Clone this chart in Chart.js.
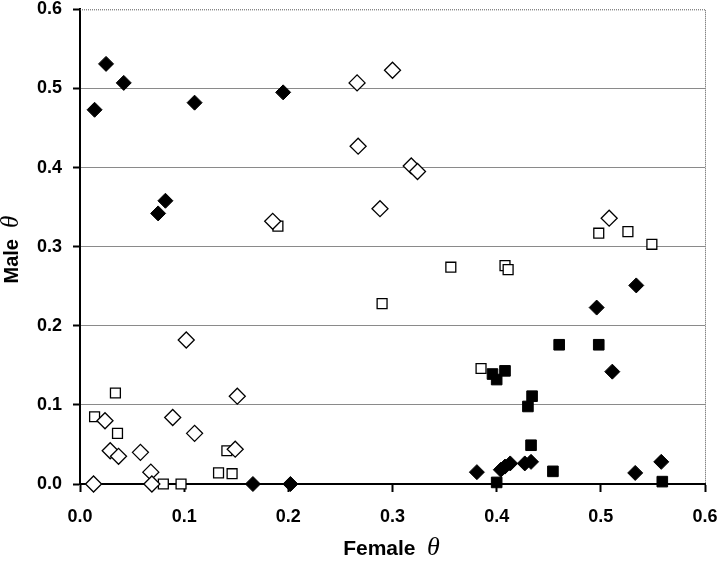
<!DOCTYPE html>
<html>
<head>
<meta charset="utf-8">
<script src="https://cdn.jsdelivr.net/npm/chart.js@4.4.1/dist/chart.umd.min.js"></script>
<style>
  html, body { margin: 0; padding: 0; background: #fff; }
  #wrap { width: 720px; height: 562px; }
</style>
</head>
<body>
<div id="wrap"><canvas id="chart"></canvas></div>
<script>
// values (female θ, male θ)
const solidDiamondX = [0.014, 0.025, 0.042, 0.110, 0.195, 0.075, 0.082, 0.166, 0.202, 0.534, 0.496, 0.511, 0.381, 0.404, 0.408, 0.413, 0.427, 0.433, 0.533, 0.558];
const solidDiamondY = [0.473, 0.531, 0.507, 0.482, 0.495, 0.342, 0.358, 0.000, 0.000, 0.251, 0.223, 0.142, 0.015, 0.018, 0.022, 0.026, 0.026, 0.028, 0.014, 0.028];

const openDiamondX = [0.185, 0.266, 0.267, 0.300, 0.318, 0.324, 0.288, 0.508, 0.102, 0.151, 0.089, 0.024, 0.110, 0.058, 0.029, 0.037, 0.149, 0.068, 0.069, 0.013];
const openDiamondY = [0.332, 0.507, 0.427, 0.523, 0.402, 0.395, 0.348, 0.336, 0.182, 0.111, 0.084, 0.080, 0.064, 0.040, 0.042, 0.035, 0.044, 0.015, 0.000, 0.000];

const openSquareX = [0.190, 0.498, 0.526, 0.549, 0.356, 0.408, 0.411, 0.290, 0.385, 0.034, 0.014, 0.036, 0.080, 0.097, 0.133, 0.146, 0.141];
const openSquareY = [0.326, 0.317, 0.319, 0.303, 0.274, 0.276, 0.271, 0.228, 0.146, 0.115, 0.085, 0.064, 0.000, 0.000, 0.014, 0.013, 0.042];

const solidSquareX = [0.460, 0.498, 0.396, 0.400, 0.408, 0.434, 0.430, 0.433, 0.454, 0.400, 0.559];
const solidSquareY = [0.176, 0.176, 0.139, 0.132, 0.143, 0.111, 0.098, 0.049, 0.016, 0.002, 0.003];

const tickValues = [0, 0.1, 0.2, 0.3, 0.4, 0.5, 0.6];
const xTitle = ['Female', 'θ'];
const yTitle = ['Male', 'θ'];

const toPoints = (xs, ys) => xs.map((x, i) => ({ x: x, y: ys[i] }));

const sans = '"Liberation Sans", Arial, sans-serif';
const serif = '"Liberation Serif", "Times New Roman", serif';

// dotted frame on top and right side, plus the axis titles (bold word + italic theta)
const extrasPlugin = {
  id: 'extras',
  afterDraw(chart) {
    const a = chart.chartArea;
    const ctx = chart.ctx;
    ctx.save();
    ctx.strokeStyle = '#555';
    ctx.lineWidth = 1;
    ctx.setLineDash([1, 1]);
    ctx.beginPath();
    ctx.moveTo(a.left, a.top + 0.5);
    ctx.lineTo(a.right + 0.5, a.top + 0.5);
    ctx.lineTo(a.right + 0.5, a.bottom);
    ctx.stroke();
    ctx.setLineDash([]);

    const drawTitle = (parts, size, cx, cy, rotate) => {
      ctx.save();
      ctx.translate(cx, cy);
      if (rotate) ctx.rotate(-Math.PI / 2);
      ctx.fillStyle = '#000';
      ctx.textBaseline = 'middle';
      ctx.textAlign = 'left';
      const f1 = 'bold ' + size + 'px ' + sans;
      const f2 = 'italic ' + (size + 5) + 'px ' + serif;
      ctx.font = f1;
      const w1 = ctx.measureText(parts[0]).width;
      ctx.font = f2;
      const w2 = ctx.measureText(parts[1]).width;
      const gap = size * 0.55;
      const x0 = -(w1 + gap + w2) / 2;
      ctx.font = f1;
      ctx.fillText(parts[0], x0, 0);
      ctx.font = f2;
      ctx.fillText(parts[1], x0 + w1 + gap, -1);
      ctx.restore();
    };
    drawTitle(xTitle, 21, (a.left + a.right) / 2 - 1, 549, false);
    drawTitle(yTitle, 20, 12, (a.top + a.bottom) / 2 + 3, true);
    ctx.restore();
  }
};

const tickFont = { family: sans, weight: 'bold', size: 18 };

new Chart(document.getElementById('chart'), {
  type: 'scatter',
  data: {
    datasets: [
      {
        data: toPoints(openDiamondX, openDiamondY),
        pointStyle: 'rectRot', pointRadius: 8, borderWidth: 1.3,
        borderColor: '#000', backgroundColor: '#fff', clip: false
      },
      {
        data: toPoints(openSquareX, openSquareY),
        pointStyle: 'rect', pointRadius: 7, borderWidth: 1.3,
        borderColor: '#000', backgroundColor: '#fff', clip: false
      },
      {
        data: toPoints(solidDiamondX, solidDiamondY),
        pointStyle: 'rectRot', pointRadius: 7.5, borderWidth: 1,
        borderColor: '#000', backgroundColor: '#000', clip: false
      },
      {
        data: toPoints(solidSquareX, solidSquareY),
        pointStyle: 'rect', pointRadius: 7.5, borderWidth: 1,
        borderColor: '#000', backgroundColor: '#000', clip: false
      }
    ]
  },
  options: {
    responsive: true,
    maintainAspectRatio: false,
    animation: false,
    layout: { padding: { top: 9, right: 15, left: 0, bottom: 0 } },
    plugins: { legend: { display: false }, tooltip: { enabled: false } },
    scales: {
      x: {
        type: 'linear', min: 0, max: 0.6,
        afterBuildTicks: (s) => { s.ticks = tickValues.map(v => ({ value: v })); },
        afterFit: (s) => { s.height = 78; s.paddingLeft = 0; s.paddingRight = 0; },
        grid: { drawOnChartArea: false, drawTicks: true, tickLength: 8, tickColor: '#000', tickWidth: 2 },
        border: { color: '#000', width: 2 },
        ticks: { color: '#000', font: tickFont, padding: 14, callback: (v) => v.toFixed(1) }
      },
      y: {
        type: 'linear', min: 0, max: 0.6,
        afterBuildTicks: (s) => { s.ticks = tickValues.map(v => ({ value: v })); },
        afterFit: (s) => { s.width = 80; s.paddingTop = 0; s.paddingBottom = 0; },
        grid: {
          color: (c) => (c.tick && c.tick.value >= 0.6) ? 'rgba(0,0,0,0)' : '#8a8a8a',
          lineWidth: 1, tickLength: 7, tickColor: '#000', tickWidth: 2
        },
        border: { color: '#000', width: 2 },
        ticks: { color: '#000', font: tickFont, padding: 11, callback: (v) => v.toFixed(1) }
      }
    }
  },
  plugins: [extrasPlugin]
});
</script>
</body>
</html>
